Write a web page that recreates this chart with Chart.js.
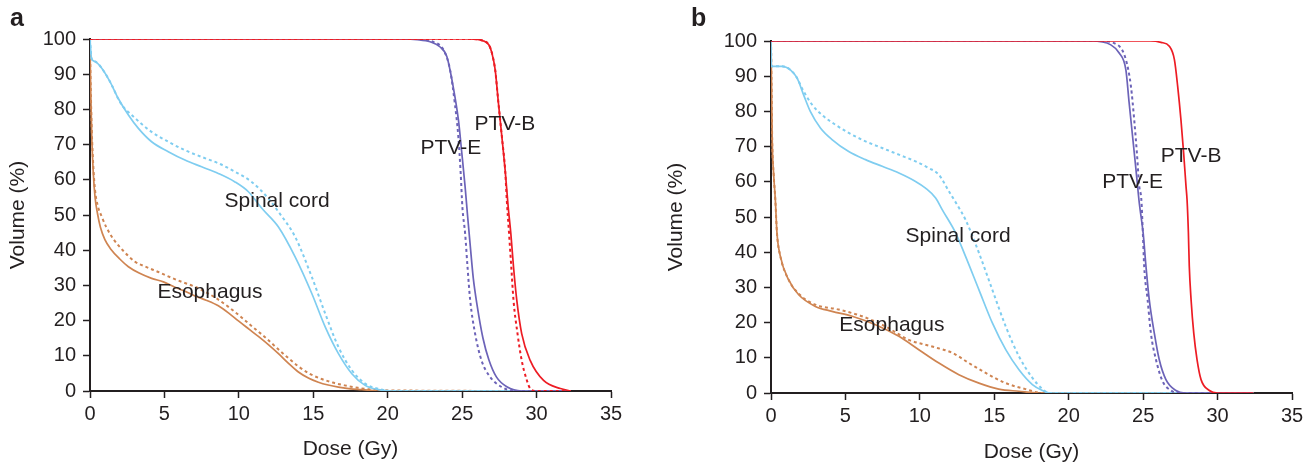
<!DOCTYPE html>
<html>
<head>
<meta charset="utf-8">
<script src="https://cdn.jsdelivr.net/npm/chart.js@4/dist/chart.umd.min.js"></script>
<style>
  body { margin: 0; background: #fff; }
  .panel { position: absolute; top: 0; width: 658px; height: 465px; }
  #panel-a { left: 0; }
  #panel-b { left: 658px; }
</style>
</head>
<body>
<div class="panel" id="panel-a"><canvas id="chart-a" width="658" height="465"></canvas></div>
<div class="panel" id="panel-b"><canvas id="chart-b" width="658" height="465"></canvas></div>
<script>
// ============================================
// DATA (dose in Gy, volume in %)
// ============================================
const xTicks = [0, 5, 10, 15, 20, 25, 30, 35];
const yTicks = [0, 10, 20, 30, 40, 50, 60, 70, 80, 90, 100];

// panel a
const aCordDose      = [0, 0.1, 0.34, 0.79, 1.34, 1.9, 2.58, 3.25, 4.14, 5.26, 6.38, 7.5, 8.62, 9.74, 10.64, 11.54, 12.66, 13.78, 14.9, 15.8, 16.69, 17.59, 18.48, 19.38, 20.3, 32.3];
const aCordVol       = [100, 94.5, 93.6, 91.7, 87.9, 83.1, 78.4, 74.6, 70.8, 68.0, 65.6, 63.7, 61.8, 59.4, 56.6, 51.9, 46.6, 38.1, 27.7, 18.2, 10.6, 4.9, 1.6, 0.4, 0, 0];
const aCordDashDose  = [0, 0.1, 0.34, 0.79, 1.34, 2.1, 2.8, 4.14, 5.26, 6.38, 7.5, 8.62, 9.74, 10.86, 11.98, 12.66, 13.78, 14.9, 15.8, 16.69, 17.59, 18.48, 19.38, 20.3, 32.3];
const aCordDashVol   = [100, 94.5, 93.6, 91.7, 87.9, 81.5, 78.4, 73.6, 70.8, 68.4, 66.5, 64.7, 62.3, 59.4, 54.7, 50.9, 43.8, 32.4, 22, 12.5, 5.9, 2.1, 0.6, 0, 0];
const aEsoDose       = [0, 0.05, 0.12, 0.22, 0.34, 0.5, 0.7, 1.0, 1.4, 2.0, 2.58, 3.3, 4.14, 4.93, 5.71, 6.4, 7.06, 7.8, 8.62, 9.3, 9.97, 10.7, 11.31, 12.0, 12.66, 13.3, 14.0, 14.7, 15.34, 16.0, 16.69, 17.5, 18.26, 19.3, 32.3];
const aEsoVol        = [98, 85, 72, 62, 55, 50.5, 46.5, 43, 40.3, 37.5, 35.3, 33.5, 32, 31, 29.5, 28.3, 27, 25.8, 24.2, 22.2, 19.9, 17.5, 15.5, 13.1, 10.6, 8, 5.4, 3.6, 2.5, 1.7, 1.1, 0.6, 0.4, 0, 0];
const aEsoDashDose   = [0, 0.05, 0.12, 0.22, 0.34, 0.5, 0.79, 1.1, 1.6, 2.2, 3.0, 3.8, 4.59, 5.4, 6.16, 7.0, 7.73, 8.5, 9.3, 10.1, 10.87, 11.7, 12.43, 13.2, 14.0, 14.8, 15.57, 16.3, 17.1, 18.0, 18.7, 19.5, 32.3];
const aEsoDashVol    = [98, 86, 74, 64, 57, 53, 49.5, 46.5, 43, 40, 36.8, 35.2, 33.8, 32.3, 31, 29.7, 28.2, 26.3, 23.9, 21.2, 18.4, 15.5, 12.7, 9.8, 7.0, 4.8, 3.4, 2.4, 1.6, 0.9, 0.5, 0.2, 0];
const aPtvEDose      = [0, 21.0, 22.0, 22.85, 23.5, 23.97, 24.4, 24.75, 24.98, 25.2, 25.36, 25.55, 25.75, 26.0, 26.4, 26.8, 27.3, 28.0, 29.0, 32.3];
const aPtvEVol       = [100, 100, 99.8, 99.2, 97.8, 95, 86.4, 77, 67.5, 58, 50, 41, 32, 24.5, 15, 8.8, 4, 1.2, 0, 0];
const aPtvEDashDose  = [0, 22.0, 23.0, 23.8, 24.2, 24.5, 24.75, 24.9, 25.02, 25.2, 25.36, 25.54, 25.87, 26.3, 26.88, 27.67, 28.5, 32.3];
const aPtvEDashVol   = [100, 100, 99.3, 96.5, 91, 82, 72, 62, 52, 44.8, 35.3, 25.8, 16.3, 8.7, 4.0, 1.1, 0, 0];
const aPtvBDose      = [0, 25.5, 26.4, 26.8, 27.0, 27.22, 27.44, 27.67, 27.89, 28.1, 28.27, 28.45, 28.67, 29.0, 29.57, 30.47, 31.6, 32.3];
const aPtvBVol       = [100, 100, 99.5, 98.3, 96, 91.2, 81.7, 72.2, 62.7, 52, 44.8, 35.3, 25.8, 16.3, 8.7, 3.0, 0.7, 0];
const aPtvBDashDose  = [0, 25.5, 26.4, 26.8, 27.0, 27.22, 27.44, 27.67, 27.89, 28.0, 28.15, 28.3, 28.45, 28.72, 29.0, 29.35, 29.57, 30.0, 32.3];
const aPtvBDashVol   = [100, 100, 99.5, 98.3, 96, 91.2, 81.7, 72.2, 62.7, 54.2, 44.8, 35.3, 25.8, 16.3, 8.7, 3.0, 0.7, 0, 0];

// panel b
const bCordDose      = [0, 0.02, 0.74, 1.3, 1.75, 2.19, 2.64, 3.32, 4.1, 5.22, 6.35, 7.47, 8.59, 9.71, 10.38, 11.06, 11.5, 12.4, 13.07, 13.97, 14.87, 15.77, 16.66, 17.56, 18.24, 18.7, 32.4];
const bCordVol       = [100, 92.8, 92.8, 91.8, 89.5, 84.7, 80, 75.3, 72, 68.6, 66.3, 64.4, 62.5, 60.1, 58.2, 55.4, 52.1, 45.5, 38.8, 29.3, 19.9, 12.3, 6.6, 2.4, 0.7, 0, 0];
const bCordDashDose  = [0, 0.02, 0.74, 1.3, 1.75, 2.08, 2.76, 3.54, 4.33, 5.22, 6.35, 7.47, 8.59, 9.71, 10.6, 11.28, 11.95, 12.5, 13.07, 13.97, 14.87, 15.77, 16.66, 17.56, 18.24, 18.7, 32.4];
const bCordDashVol   = [100, 92.8, 92.8, 91.8, 89.5, 86.6, 81.9, 78.6, 76.2, 73.9, 71.5, 69.6, 67.7, 65.8, 63.9, 62, 57.3, 53.5, 49.2, 39.8, 29.3, 18.9, 10.4, 4.3, 1.1, 0, 0];
const bEsoDose       = [0, 0.03, 0.08, 0.18, 0.29, 0.4, 0.63, 1.18, 1.86, 2.98, 4.1, 5.45, 7.02, 8.59, 9.93, 11.28, 12.62, 13.97, 15.3, 16.66, 18.0, 32.4];
const bEsoVol        = [100, 90, 72, 62, 55, 45.5, 38.8, 32.2, 27.9, 24.6, 23.2, 21.8, 19.4, 16.1, 12.3, 8.5, 5.2, 2.8, 1.1, 0.5, 0, 0];
const bEsoDashDose   = [0, 0.03, 0.08, 0.18, 0.29, 0.4, 0.63, 1.18, 1.86, 2.98, 4.55, 6.12, 7.69, 9.26, 10.83, 12.18, 13.3, 14.42, 15.77, 17.1, 18.2, 32.4];
const bEsoDashVol    = [100, 90, 72, 62, 55, 45.5, 38.8, 32.2, 28.2, 25.1, 23.7, 21.8, 18.9, 15.1, 13.2, 11.4, 8.5, 5.7, 2.8, 1.1, 0, 0];
const bPtvEDose      = [0, 21.5, 22.83, 23.39, 23.84, 24.06, 24.29, 24.52, 24.74, 25.0, 25.19, 25.41, 25.75, 26.08, 26.53, 27.2, 27.8, 32.4];
const bPtvEVol       = [100, 100, 98.9, 96.6, 91.8, 82.4, 72.9, 63.4, 54, 45.5, 36, 26.5, 17, 9.5, 3.8, 0.7, 0, 0];
const bPtvEDashDose  = [0, 22.0, 23.28, 23.84, 24.18, 24.4, 24.58, 24.74, 24.88, 24.98, 25.07, 25.3, 25.52, 25.86, 26.31, 26.87, 27.3, 32.4];
const bPtvEDashVol   = [100, 100, 98.9, 94.7, 87.1, 77.6, 68.2, 58.7, 54.9, 45.5, 36, 26.5, 17, 9.5, 3.3, 0.7, 0, 0];
const bPtvBDose      = [0, 25.5, 26.2, 26.76, 27.1, 27.32, 27.54, 27.72, 27.88, 27.95, 28.04, 28.1, 28.22, 28.4, 28.62, 28.89, 29.45, 30.0, 32.4];
const bPtvBVol       = [100, 100, 99.6, 98.5, 94.7, 87.1, 77.6, 68.2, 58.7, 54.9, 45.5, 36, 26.5, 17, 9.5, 3.8, 0.7, 0, 0];

// structure labels, placed in data units
const labelTexts = ['Spinal cord', 'Esophagus', 'PTV-E', 'PTV-B'];
const aLabelDose = [12.57, 8.06, 24.24, 27.87];
const aLabelVol  = [53.9, 28.1, 69.0, 75.7];
const bLabelDose = [12.57, 8.12, 24.29, 28.22];
const bLabelVol  = [44.5, 19.4, 59.8, 67.4];

// ============================================
// STYLE
// ============================================
const COLORS = {
    cord: '#7fcdf0',
    eso: '#cf8451',
    ptvE: '#6c63b8',
    ptvB: '#ed1c24'
};
const INK = '#231f20';
const FONT = "'Liberation Sans', Arial, sans-serif";

Chart.defaults.font.family = FONT;
Chart.defaults.color = INK;

function toPoints(doses, vols) {
    return doses.map((d, i) => ({ x: d, y: vols[i] }));
}

function series(doses, vols, color, dashed) {
    return {
        data: toPoints(doses, vols),
        borderColor: color,
        borderWidth: dashed ? 2 : 1.7,
        borderDash: dashed ? [3, 3] : [],
        pointRadius: 0,
        cubicInterpolationMode: 'monotone',
        fill: false
    };
}

// draws structure names and the panel letter
const annotate = {
    id: 'annotate',
    afterDatasetsDraw(chart, args, opts) {
        const ctx = chart.ctx;
        const xs = chart.scales.x, ys = chart.scales.y;
        ctx.save();
        ctx.fillStyle = INK;
        ctx.font = '21px ' + FONT;
        ctx.textAlign = 'center';
        ctx.textBaseline = 'middle';
        opts.texts.forEach((t, i) => {
            ctx.fillText(t, xs.getPixelForValue(opts.doses[i]), ys.getPixelForValue(opts.vols[i]));
        });
        ctx.font = 'bold 25px ' + FONT;
        ctx.textAlign = 'left';
        ctx.textBaseline = 'alphabetic';
        ctx.fillText(opts.letter, opts.letterX, 26);
        ctx.restore();
    }
};

function makeChart(id, datasets, pad, yWidth, xHeight, titlePad, labels) {
    return new Chart(document.getElementById(id), {
        type: 'line',
        data: { datasets: datasets },
        plugins: [annotate],
        options: {
            responsive: false,
            animation: false,
            layout: { padding: pad },
            plugins: {
                legend: { display: false },
                tooltip: { enabled: false },
                annotate: labels
            },
            scales: {
                x: {
                    type: 'linear',
                    min: 0, max: 35,
                    afterBuildTicks: s => { s.ticks = xTicks.map(v => ({ value: v })); },
                    afterFit: s => { s.height = xHeight; },
                    grid: { drawOnChartArea: false, tickLength: 7, color: INK, tickWidth: 1.5 },
                    border: { color: INK, width: 2 },
                    ticks: { font: { size: 20 }, color: INK, padding: 4, maxRotation: 0 },
                    title: { display: true, text: 'Dose (Gy)', font: { size: 21 }, color: INK, padding: { top: 0, bottom: titlePad } }
                },
                y: {
                    min: 0, max: 100,
                    afterBuildTicks: s => { s.ticks = yTicks.map(v => ({ value: v })); },
                    afterFit: s => { s.width = yWidth; },
                    grid: { drawOnChartArea: false, tickLength: 7, color: INK, tickWidth: 1.5 },
                    border: { color: INK, width: 2 },
                    ticks: { font: { size: 20 }, color: INK, padding: 7 },
                    title: { display: true, text: 'Volume (%)', font: { size: 21 }, color: INK, padding: { top: 6, bottom: 0 } }
                }
            }
        }
    });
}

makeChart('chart-a', [
    series(aPtvBDashDose, aPtvBDashVol, COLORS.ptvB, true),
    series(aPtvBDose, aPtvBVol, COLORS.ptvB, false),
    series(aPtvEDashDose, aPtvEDashVol, COLORS.ptvE, true),
    series(aPtvEDose, aPtvEVol, COLORS.ptvE, false),
    series(aCordDashDose, aCordDashVol, COLORS.cord, true),
    series(aCordDose, aCordVol, COLORS.cord, false),
    series(aEsoDashDose, aEsoDashVol, COLORS.eso, true),
    series(aEsoDose, aEsoVol, COLORS.eso, false)
], { left: 0, right: 47, top: 39, bottom: 0 }, 90, 74, 3,
   { texts: labelTexts, doses: aLabelDose, vols: aLabelVol, letter: 'a', letterX: 10 });

makeChart('chart-b', [
    series(bPtvBDose, bPtvBVol, COLORS.ptvB, false),
    series(bPtvEDashDose, bPtvEDashVol, COLORS.ptvE, true),
    series(bPtvEDose, bPtvEVol, COLORS.ptvE, false),
    series(bCordDashDose, bCordDashVol, COLORS.cord, true),
    series(bCordDose, bCordVol, COLORS.cord, false),
    series(bEsoDashDose, bEsoDashVol, COLORS.eso, true),
    series(bEsoDose, bEsoVol, COLORS.eso, false)
], { left: 0, right: 24, top: 41, bottom: 0 }, 113, 72, 0,
   { texts: labelTexts, doses: bLabelDose, vols: bLabelVol, letter: 'b', letterX: 33 });
</script>
</body>
</html>
